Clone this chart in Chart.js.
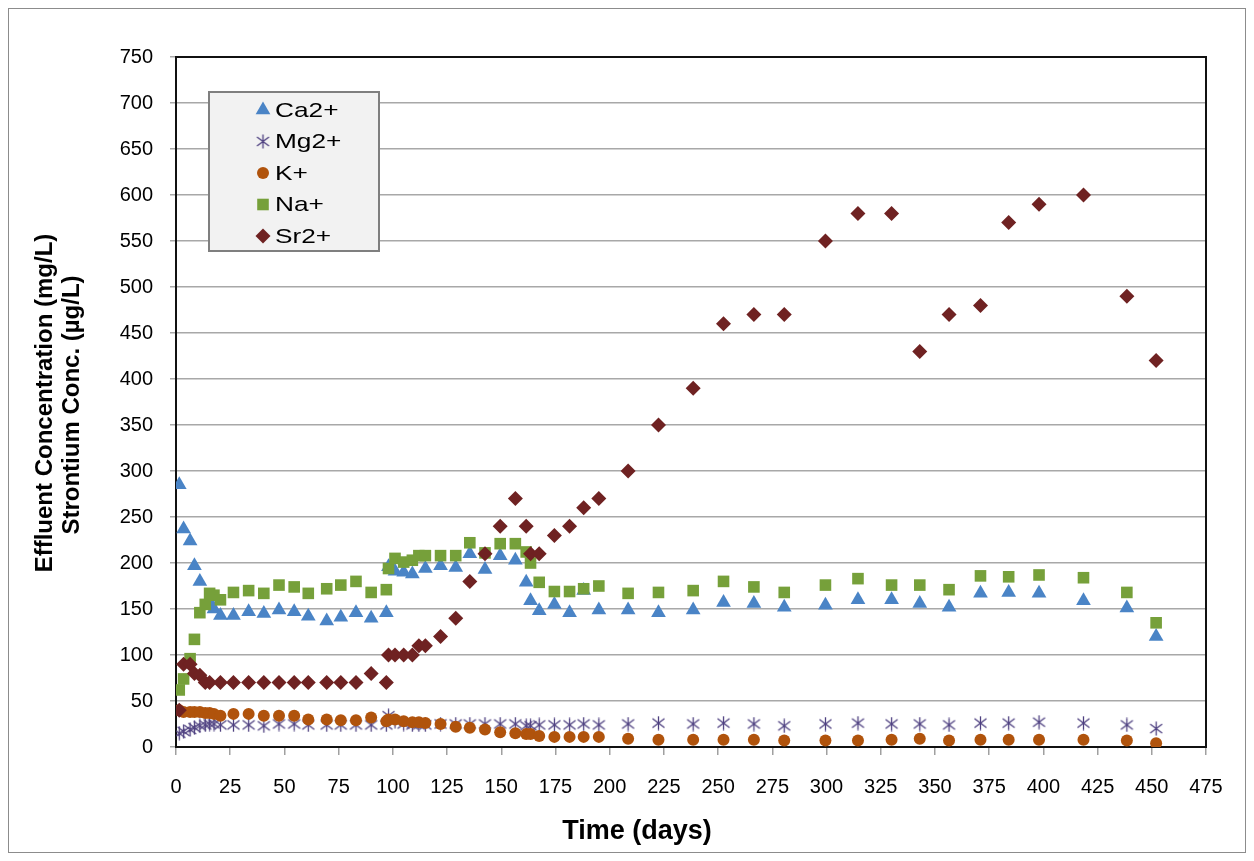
<!DOCTYPE html>
<html>
<head>
<meta charset="utf-8">
<script src="https://cdn.jsdelivr.net/npm/chart.js@4.4.0/dist/chart.umd.min.js"></script>
<style>
  body { margin: 0; background: #fff; }
  #wrap { width: 1254px; height: 861px; }
</style>
</head>
<body>
<div id="wrap"><canvas id="ionChart" width="1254" height="861"></canvas></div>
<script>
// sampling times (days), shared by all series; null = no reading at that time
const days = [1.5, 3.5, 6.5, 8.5, 11, 13.5, 15.5, 17.5, 20.5, 26.5,
  33.5, 40.5, 47.5, 54.5, 61, 69.5, 76, 83, 90, 97,
  98, 101, 105, 109, 112, 115, 122, 129, 135.5, 142.5,
  149.5, 156.5, 161.5, 163.5, 167.5, 174.5, 181.5, 188, 195, 208.5,
  222.5, 238.5, 252.5, 266.5, 280.5, 299.5, 314.5, 330, 343, 356.5,
  371, 384, 398, 418.5, 438.5, 452];

const ca = [285, 237, 224, 197, 180, null, 158, 150, 143, 143,
  147, 145, 149, 147, 142, 137, 141, 146, 140, 146,
  196, 191, 190, 188, null, 194, 197, 195, 210, 193,
  208, 203, 179, 159, 148, 155, 146, 170, 149, 149,
  146, 149, 157, 156, 152, 154, 160, 160, 156, 152,
  167, 168, 167, 159, 151, 120];

const mg = [15, 17, 19, 21, 23, 24, 25, 25, 24, 24,
  24, 23, 25, 25, 24, 24, 24, 24, 24, 24,
  34, 28, 25, 24, 24, 24, 25, 25, 25, 25,
  25, 25, 23, 23, 24, 24, 24, 25, 24, 25,
  26, 25, 26, 25, 23, 25, 26, 25, 25, 24,
  26, 26, 27, 26, 24, 20];

const k = [40, 38, 38, 38, 38, 37, 37, 36, 34, 36,
  36, 34, 34, 34, 30, 30, 29, 29, 32, 28,
  30, 30, 28, 27, 27, 26, 25, 22, 21, 19,
  16, 15, 14, 14, 12, 11, 11, 11, 11, 9,
  8, 8, 8, 8, 7, 7, 7, 8, 9, 7,
  8, 8, 8, 8, 7, 4];

const na = [62, 74, 96, 117, 146, 155, 167, 165, 160, 168,
  170, 167, 176, 174, 167, 172, 176, 180, 168, 171,
  194, 205, 201, 203, 208, 208, 208, 208, 222, 211,
  221, 221, 212, 200, 179, 169, 169, 172, 175, 167,
  168, 170, 180, 174, 168, 176, 183, 176, 176, 171,
  186, 185, 187, 184, 168, 135];

const sr = [40, 90, 90, 80, 78, 70, 70, null, 70, 70,
  70, 70, 70, 70, 70, 70, 70, 70, 80, 70,
  100, 100, 100, 100, 110, 110, 120, 140, 180, 210,
  240, 270, 240, 210, 210, 230, 240, 260, 270, 300,
  350, 390, 460, 470, 470, 550, 580, 580, 430, 470,
  480, 570, 590, 600, 490, 420];

const seriesNames = ['Ca2+', 'Mg2+', 'K+', 'Na+', 'Sr2+'];

// Excel-style asterisk marker (vertical bar + X)
function makeAsterisk(color) {
  const c = document.createElement('canvas');
  c.width = 15; c.height = 15;
  const g = c.getContext('2d');
  g.strokeStyle = color;
  g.lineWidth = 1.3;
  g.beginPath();
  g.moveTo(7.5, 0.5); g.lineTo(7.5, 14.5);
  g.moveTo(1.5, 3); g.lineTo(13.5, 12);
  g.moveTo(1.5, 12); g.lineTo(13.5, 3);
  g.stroke();
  return c;
}

function pts(vals) {
  const out = [];
  vals.forEach(function(v, i) {
    if (v !== null) out.push({ x: days[i], y: v });
  });
  return out;
}

const styles = [
  { pointStyle: 'triangle', color: '#4a84c6', radius: 8.5 },
  { pointStyle: makeAsterisk('#4e4080'), color: '#4e4080', radius: 7 },
  { pointStyle: 'circle', color: '#b0530c', radius: 6 },
  { pointStyle: 'rect', color: '#76a03a', radius: 8.2 },
  { pointStyle: 'rectRot', color: '#6f2222', radius: 7.5 }
];

const allValues = [ca, mg, k, na, sr];

const datasets = allValues.map(function(vals, i) {
  return {
    label: seriesNames[i],
    data: pts(vals),
    pointStyle: styles[i].pointStyle,
    pointRadius: styles[i].radius,
    pointHoverRadius: styles[i].radius,
    pointBackgroundColor: styles[i].color,
    pointBorderColor: styles[i].color,
    pointBorderWidth: 0,
    showLine: false,
    order: 4 - i
  };
});

const decorPlugin = {
  id: 'decor',
  beforeDatasetsDraw(chart) {
    const { ctx, chartArea: a } = chart;
    ctx.save();
    ctx.strokeStyle = '#111';
    ctx.lineWidth = 2;
    ctx.strokeRect(a.left, a.top, a.right - a.left, a.bottom - a.top);
    ctx.restore();
  },
  afterDraw(chart) {
    const ctx = chart.ctx;
    ctx.save();
    // outer frame
    ctx.strokeStyle = '#8c8c8c';
    ctx.lineWidth = 1;
    ctx.strokeRect(8.5, 8.5, 1237, 844);

    // axis titles
    ctx.fillStyle = '#000';
    ctx.textAlign = 'center';
    ctx.textBaseline = 'middle';
    ctx.font = 'bold 27px "Liberation Sans", Arial, sans-serif';
    ctx.fillText('Time (days)', 637, 832);

    ctx.font = 'bold 24px "Liberation Sans", Arial, sans-serif';
    ctx.save();
    ctx.translate(45, 403);
    ctx.rotate(-Math.PI / 2);
    ctx.fillText('Effluent Concentration (mg/L)', 0, 0);
    ctx.restore();
    ctx.save();
    ctx.translate(72, 405);
    ctx.rotate(-Math.PI / 2);
    ctx.fillText('Strontium Conc. (\u00b5g/L)', 0, 0);
    ctx.restore();

    // legend box
    ctx.fillStyle = '#f2f2f2';
    ctx.fillRect(209, 92, 170, 159);
    ctx.strokeStyle = '#7f7f7f';
    ctx.lineWidth = 2;
    ctx.strokeRect(209, 92, 170, 159);

    ctx.font = '21px "Liberation Sans", Arial, sans-serif';
    ctx.textAlign = 'left';
    ctx.textBaseline = 'middle';
    seriesNames.forEach(function(name, i) {
      const y = 110 + i * 31.5;
      const s = styles[i];
      ctx.fillStyle = s.color;
      ctx.strokeStyle = s.color;
      Chart.helpers.drawPoint(ctx, {
        pointStyle: s.pointStyle,
        radius: s.radius,
        borderWidth: 0,
        rotation: 0
      }, 263, y);
      ctx.fillStyle = '#000';
      ctx.save();
      ctx.translate(275, y + 1);
      ctx.scale(1.25, 1);
      ctx.fillText(name, 0, 0);
      ctx.restore();
    });
    ctx.restore();
  }
};

new Chart(document.getElementById('ionChart'), {
  type: 'scatter',
  data: { datasets: datasets },
  options: {
    responsive: false,
    animation: false,
    layout: { padding: { top: 57, right: 48, left: 0, bottom: 0 } },
    plugins: {
      legend: { display: false },
      tooltip: { enabled: false }
    },
    scales: {
      x: {
        type: 'linear',
        min: 0,
        max: 475,
        afterFit: function(scale) { scale.height = 114; },
        border: { display: false },
        grid: {
          drawOnChartArea: false,
          drawTicks: true,
          tickLength: 8,
          color: '#a0a0a0',
          lineWidth: 1.5
        },
        ticks: {
          stepSize: 25,
          autoSkip: false,
          maxRotation: 0,
          padding: 20,
          color: '#000',
          font: { family: '"Liberation Sans Narrow", "Arial Narrow", "Liberation Sans", sans-serif', size: 20 }
        }
      },
      y: {
        type: 'linear',
        min: 0,
        max: 750,
        afterFit: function(scale) { scale.width = 176; },
        border: { display: false },
        grid: {
          color: '#a8a8a8',
          lineWidth: 1.5,
          tickLength: 6
        },
        ticks: {
          stepSize: 50,
          padding: 17,
          color: '#000',
          font: { family: '"Liberation Sans", Arial, sans-serif', size: 20 }
        }
      }
    }
  },
  plugins: [decorPlugin]
});
</script>
</body>
</html>
